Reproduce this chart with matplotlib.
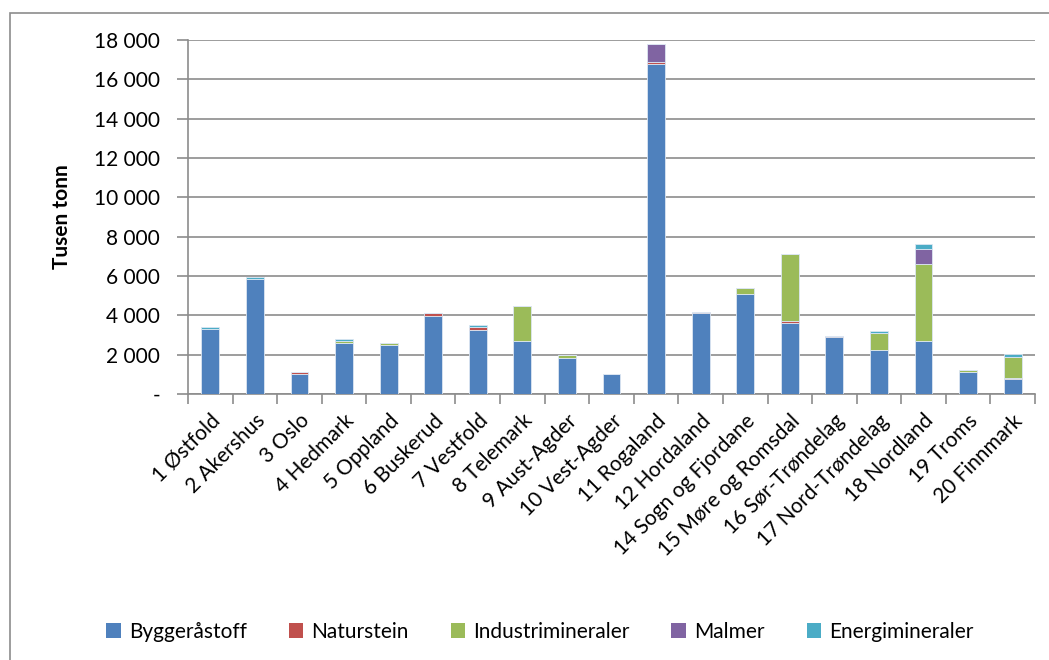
import matplotlib
matplotlib.use("Agg")
import matplotlib.pyplot as plt
import numpy as np
from matplotlib.ticker import FuncFormatter, FixedLocator
from matplotlib.patches import Rectangle

plt.rcParams['font.family'] = ['Lato', 'DejaVu Sans']

fylker = ["1 Østfold", "2 Akershus", "3 Oslo", "4 Hedmark", "5 Oppland", "6 Buskerud",
          "7 Vestfold", "8 Telemark", "9 Aust-Agder", "10 Vest-Agder", "11 Rogaland",
          "12 Hordaland", "14 Sogn og Fjordane", "15 Møre og Romsdal", "16 Sør-Trøndelag",
          "17 Nord-Trøndelag", "18 Nordland", "19 Troms", "20 Finnmark"]

byggerastoff      = [3300, 5830, 1030, 2590, 2490, 3980, 3240, 2700, 1850, 1020, 16800,
                     4100, 5100, 3600, 2880, 2220, 2700, 1135, 750]
naturstein        = [30, 0, 100, 0, 0, 120, 170, 0, 0, 0, 80, 80, 0, 120, 90, 0, 0, 0, 80]
industrimineraler = [0, 0, 0, 100, 100, 0, 0, 1750, 120, 0, 0, 0, 290, 3400, 0, 870, 3900, 70, 1050]
malmer            = [0, 0, 0, 0, 0, 0, 0, 0, 0, 0, 900, 0, 0, 0, 0, 0, 750, 0, 0]
energimineraler   = [80, 100, 0, 100, 0, 0, 100, 0, 0, 0, 0, 0, 0, 0, 0, 90, 270, 0, 170]

series = [("Byggeråstoff", byggerastoff, "#4F81BD"),
          ("Naturstein", naturstein, "#C0504D"),
          ("Industrimineraler", industrimineraler, "#9BBB59"),
          ("Malmer", malmer, "#8064A2"),
          ("Energimineraler", energimineraler, "#4BACC6")]

FS = 15

fig = plt.figure(figsize=(10.49, 6.6), dpi=100)
W, H = 1049, 660
# outer chart frame (right and bottom edges run past the canvas)
fig.patches.append(Rectangle((10 / W, -10 / H), 1060 / W, 657 / H, transform=fig.transFigure,
                             fill=False, edgecolor="#8c8c8c", linewidth=1.2))

ax = fig.add_axes([188 / W, 1 - 394 / H, (1035 - 188) / W, (394 - 40) / H])

x = np.arange(len(fylker))
bottom = np.zeros(len(fylker))
for name, vals, color in series:
    v = np.array(vals, dtype=float)
    ax.bar(x, v, 0.4, bottom=bottom, color=color, label=name,
           edgecolor="#dce6f2", linewidth=0.6, zorder=3)
    bottom += v

ax.set_xlim(-0.5, len(fylker) - 0.5)
ax.set_ylim(0, 18000)
ax.yaxis.set_major_locator(FixedLocator(np.arange(0, 18001, 2000)))

def fmt(v, pos):
    if v == 0:
        return "-"
    return f"{int(v):,}".replace(",", " ")

ax.yaxis.set_major_formatter(FuncFormatter(fmt))
ax.grid(axis="y", color="#8c8c8c", linewidth=1.2, zorder=0)

for side in ["top", "right"]:
    ax.spines[side].set_visible(False)
for side in ["left", "bottom"]:
    ax.spines[side].set_color("#8c8c8c")
    ax.spines[side].set_linewidth(1.2)

ax.tick_params(axis="y", direction="out", length=8, width=1.2, color="#8c8c8c",
               labelsize=FS, pad=12)
ax.set_xticks(x)
ax.set_xticklabels(fylker, rotation=45, ha="right", rotation_mode="anchor", fontsize=FS)
ax.tick_params(axis="x", length=0, pad=12)
# category boundary ticks
ax.set_xticks(np.arange(-0.5, len(fylker), 1), minor=True)
ax.tick_params(axis="x", which="minor", direction="out", length=7, width=1.2, color="#8c8c8c")

ax.set_ylabel("Tusen tonn", fontsize=FS, fontweight="bold", labelpad=16)

handles, labels = ax.get_legend_handles_labels()
leg = fig.legend(handles, labels, loc="center", bbox_to_anchor=(540 / W, 1 - 632 / H),
                 ncol=5, frameon=False, fontsize=FS, handlelength=0.7, handleheight=0.7,
                 columnspacing=2.0, handletextpad=0.4)
for p in leg.get_patches():
    p.set_edgecolor("none")

fig.savefig("out.png", dpi=100)
